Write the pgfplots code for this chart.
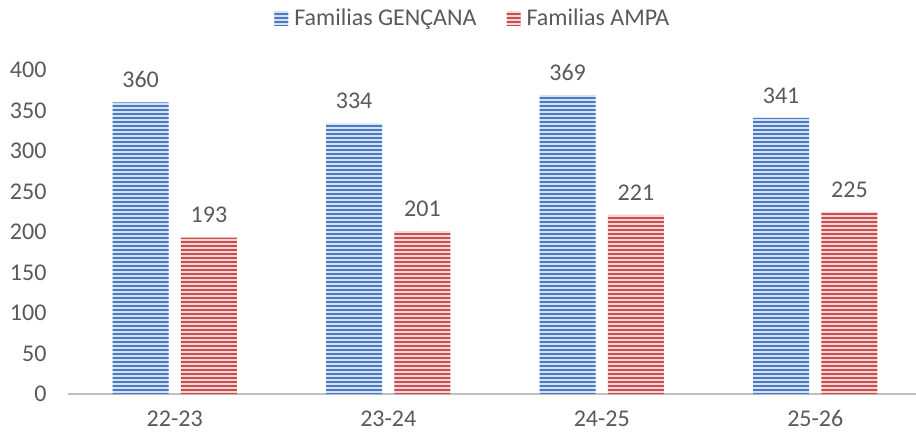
\documentclass[border=0pt]{standalone}
\usepackage{pgfplots}
\pgfplotsset{compat=1.18}
\usetikzlibrary{patterns.meta}
\usepackage{fontspec}
\setmainfont{Carlito}
\definecolor{txt}{HTML}{595959}
\definecolor{bluebar}{HTML}{4A7CC4}
\definecolor{bluebg}{HTML}{D6E2F3}
\definecolor{redbar}{HTML}{C84F4D}
\definecolor{redbg}{HTML}{F4D6D6}
\definecolor{axisgray}{HTML}{BFBFBF}
\tikzset{
  bluestyle/.style={fill=bluebg, draw=none, postaction={pattern={Lines[angle=0,distance=4bp,line width=2.2bp]}, pattern color=bluebar}},
  redstyle/.style={fill=redbg, draw=none, postaction={pattern={Lines[angle=0,distance=4bp,line width=2.2bp]}, pattern color=redbar}},
}
\newcommand{\fs}{\fontsize{24bp}{28bp}\selectfont}
\begin{document}
\begin{tikzpicture}
\path[use as bounding box] (-68bp,-40bp) rectangle (848bp,394bp);
\begin{axis}[
  at={(0,0)}, anchor=south west,
  scale only axis, width=854bp, height=324bp,
  xmin=-0.5, xmax=3.5, ymin=0, ymax=400,
  ybar, bar width=0.262,
  axis x line*=bottom, axis y line=none,
  x axis line style={draw=axisgray, line width=2.5bp, -},
  xtick={0,1,2,3}, xticklabels={22-23,23-24,24-25,25-26},
  major tick length=0pt,
  every tick label/.style={font=\fs, text=txt},
  /pgf/number format/assume math mode=true,
  xticklabel style={yshift=-13bp},
  nodes near coords,
  every node near coord/.append style={font=\fs, text=txt, anchor=south, yshift=11bp},
  legend style={at={(0.474,1.160)}, anchor=center, draw=none, fill=none, legend columns=2,
    font=\fs, text=txt,
    /tikz/every odd column/.append style={column sep=4bp},
    /tikz/every even column/.append style={column sep=28bp}},
  legend image code/.code={\path[#1] (0bp,-7bp) rectangle (14bp,7bp);},
  clip=false,
]
\addplot[bluestyle, bar shift=-0.16] coordinates {(0,360) (1,334) (2,369) (3,341)};
\addplot[redstyle, bar shift=0.16] coordinates {(0,193) (1,201) (2,221) (3,225)};
\legend{Familias GENÇANA, Familias AMPA}
\end{axis}
\begin{axis}[
  at={(0,0)}, anchor=south west,
  scale only axis, width=854bp, height=324bp,
  xmin=-0.5, xmax=3.5, ymin=0, ymax=400,
  axis x line=none, axis y line*=left, y axis line style={draw=none},
  major tick length=0pt,
  ytick={0,50,...,400},
  yticklabel style={font=\fs, text=txt, xshift=-18bp},
  /pgf/number format/assume math mode=true,
]
\end{axis}
\end{tikzpicture}
\end{document}
